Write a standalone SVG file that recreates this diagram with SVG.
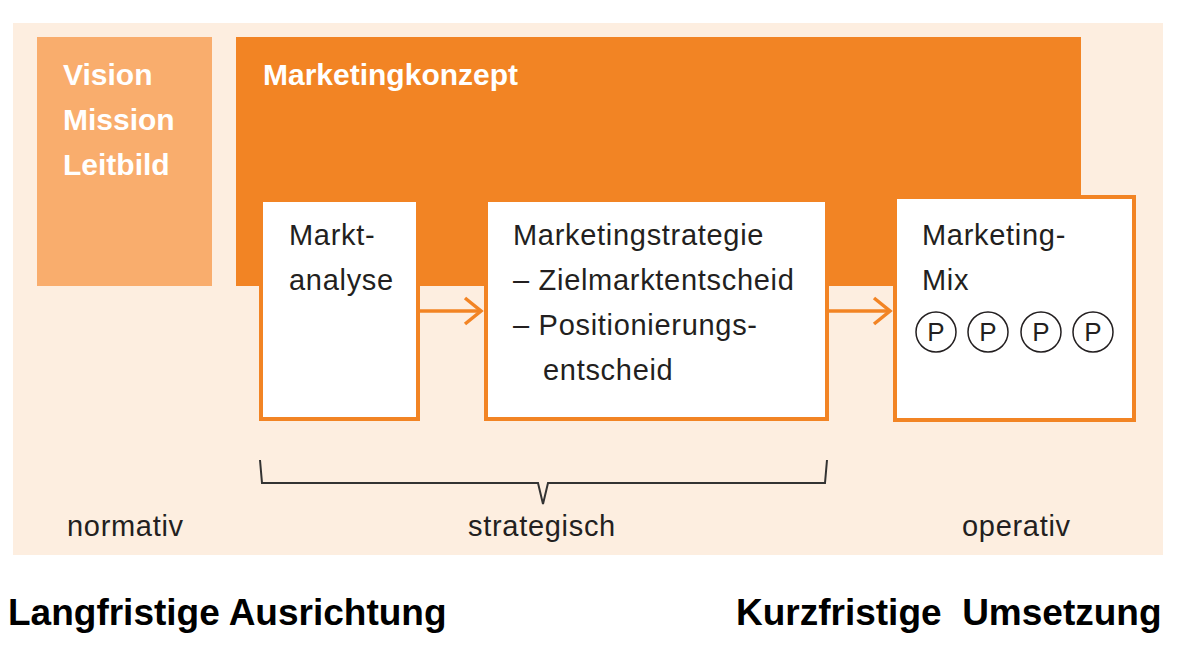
<svg xmlns="http://www.w3.org/2000/svg" width="1185" height="648" viewBox="0 0 1185 648">
<defs>
<style>
.reg{font-family:"Liberation Sans",Arial,sans-serif;font-size:29px;letter-spacing:0.7px;fill:#231f20}
.head{font-family:"Liberation Sans",Arial,sans-serif;font-size:30px;font-weight:bold;fill:#ffffff}
.foot{font-family:"Liberation Sans",Arial,sans-serif;font-size:37px;font-weight:bold;fill:#000000}
.box{fill:#ffffff;stroke:#f28424;stroke-width:4}
.conn{stroke:#f28424;stroke-width:3.5;fill:none}
.pc{fill:#ffffff;stroke:#231f20;stroke-width:1.5}
.p{font-family:"Liberation Sans",Arial,sans-serif;font-size:26px;fill:#231f20;text-anchor:middle}
</style>
<marker id="chev" markerUnits="userSpaceOnUse" markerWidth="24" markerHeight="32" viewBox="-20 -16 24 32" refX="0" refY="0" orient="auto">
<path d="M-16,-13 L0,0 L-16,13" fill="none" stroke="#f28424" stroke-width="3.5"/>
</marker>
</defs>
<rect x="0" y="0" width="1185" height="648" fill="#ffffff"/>
<rect id="background" x="13" y="23" width="1150" height="532" fill="#fdeee0"/>
<g id="vision">
<rect x="37" y="37" width="175" height="249" fill="#f9ad6d"/>
<text class="head" x="63" y="85">Vision</text>
<text class="head" x="63" y="130">Mission</text>
<text class="head" x="63" y="175">Leitbild</text>
</g>
<g id="marketingkonzept">
<rect x="236" y="37" width="845" height="249" fill="#f28424"/>
<text class="head" x="263" y="85">Marketingkonzept</text>
</g>
<g id="connectors">
<line class="conn" x1="420" y1="311" x2="481" y2="311" marker-end="url(#chev)"/>
<line class="conn" x1="829" y1="311" x2="890" y2="311" marker-end="url(#chev)"/>
<path d="M260,460 L262,483 L538,483 L543,504 L548,483 L825,483 L827,460" fill="none" stroke="#333333" stroke-width="2"/>
</g>
<g id="marktanalyse">
<rect class="box" x="261" y="200" width="157" height="219"/>
<text class="reg" x="289" y="245">Markt-</text>
<text class="reg" x="289" y="290">analyse</text>
</g>
<g id="marketingstrategie">
<rect class="box" x="486" y="200" width="341" height="219"/>
<text class="reg" x="513" y="245">Marketingstrategie</text>
<text class="reg" x="513" y="290">– Zielmarktentscheid</text>
<text class="reg" x="513" y="335">– Positionierungs-</text>
<text class="reg" x="543" y="380">entscheid</text>
</g>
<g id="marketingmix">
<rect class="box" x="895" y="197" width="239" height="223"/>
<text class="reg" x="922" y="245">Marketing-</text>
<text class="reg" x="922" y="290">Mix</text>
<circle class="pc" cx="936" cy="332" r="20"/>
<text class="p" x="936" y="341">P</text>
<circle class="pc" cx="988" cy="332" r="20"/>
<text class="p" x="988" y="341">P</text>
<circle class="pc" cx="1041" cy="332" r="20"/>
<text class="p" x="1041" y="341">P</text>
<circle class="pc" cx="1093" cy="332" r="20"/>
<text class="p" x="1093" y="341">P</text>
</g>
<g id="labels">
<text class="reg" x="67" y="536">normativ</text>
<text class="reg" x="468" y="536">strategisch</text>
<text class="reg" x="962" y="536">operativ</text>
<text class="foot" x="8" y="625">Langfristige Ausrichtung</text>
<text class="foot" x="736" y="625" xml:space="preserve">Kurzfristige  Umsetzung</text>
</g>
</svg>
